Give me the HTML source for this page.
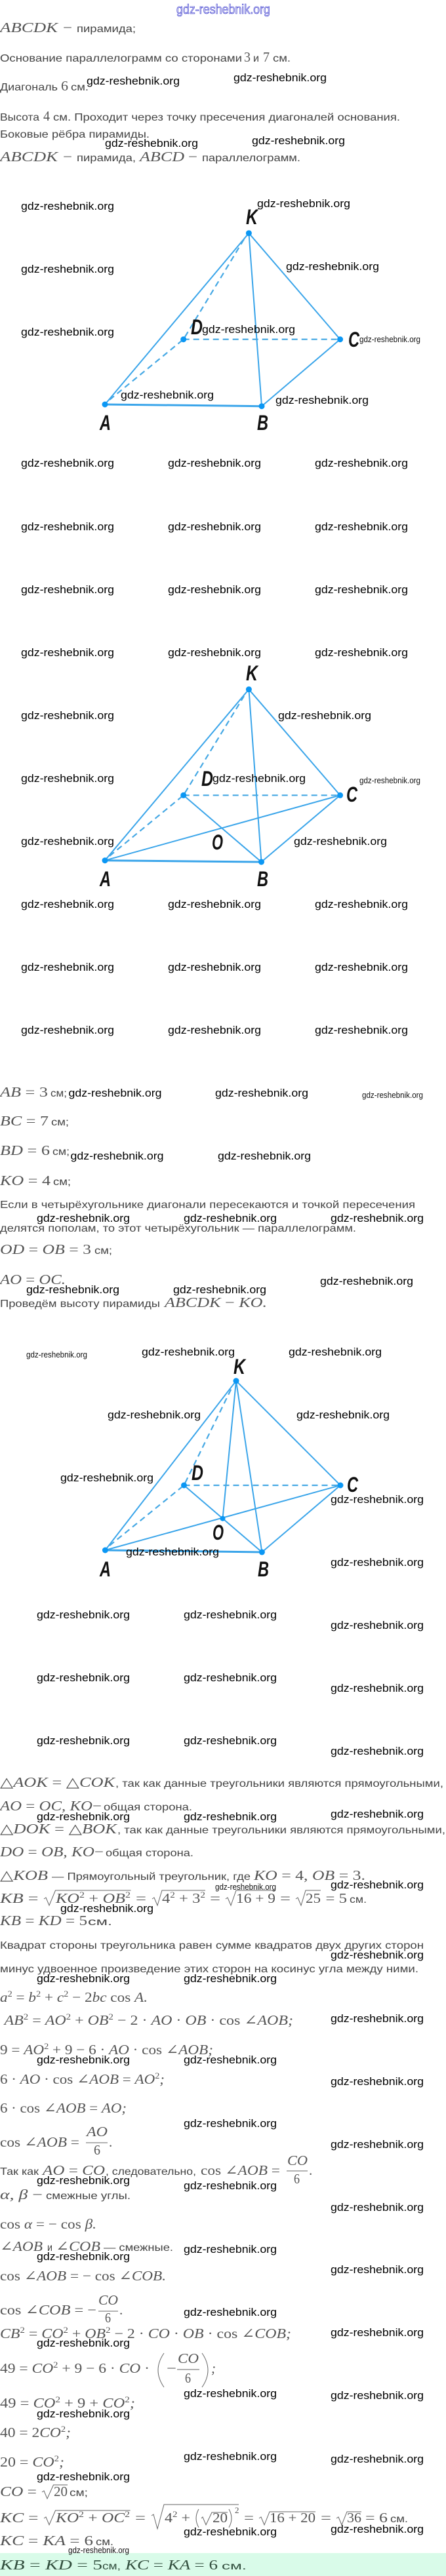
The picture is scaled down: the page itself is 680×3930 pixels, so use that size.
<!DOCTYPE html>
<html><head><meta charset="utf-8"><style>
html,body{margin:0;padding:0;background:#fff;width:680px;height:3930px;overflow:hidden}
svg{display:block}
.w{font:17px "Liberation Sans",sans-serif;fill:#000}
.x{font:12.5px "Liberation Sans",sans-serif;fill:#111}
.t{font:16px "Liberation Sans",sans-serif;fill:#444}
.m{font:italic 21px "Liberation Serif","DejaVu Serif",serif;fill:#555}
.u{font-style:normal}
.s{font-size:13px;font-style:normal}
.p{font:italic bold 32px "Liberation Sans",sans-serif;fill:#111}
.e{stroke:#3aa5ea;stroke-width:2;fill:none}
.b{stroke:#3aa5ea;stroke-width:3;fill:none}
.d{stroke:#45a8e4;stroke-width:2.2;stroke-dasharray:9 6;fill:none}
.r{stroke:#666;stroke-width:1;fill:none}
.g{fill:#0b97f4}
</style></head><body>
<svg xmlns="http://www.w3.org/2000/svg" width="680" height="3930" viewBox="0 0 680 3930">
<rect x="0" y="3895" width="680" height="35" fill="#d9fbe9"/>

<!-- pyramid 1 -->
<path class="e" d="M160 617L379.4 355.7L399 619.7L518.6 517.7L379.4 355.7"/>
<path class="b" d="M160 617L399 619.7"/>
<path class="d" d="M167 610L279.7 517.7L372 365M279.7 517.7H518.6"/>
<g class="g"><circle cx="160" cy="617" r="4.5"/><circle cx="399" cy="619.7" r="4.5"/><circle cx="518.6" cy="517.7" r="4.5"/><circle cx="279.7" cy="517.7" r="4.5"/><circle cx="379.4" cy="355.7" r="4.5"/></g>
<text class="p" x="375" y="342" textLength="18" lengthAdjust="spacingAndGlyphs">K</text>
<text class="p" x="152" y="656" textLength="17" lengthAdjust="spacingAndGlyphs">A</text>
<text class="p" x="392" y="656" textLength="17" lengthAdjust="spacingAndGlyphs">B</text>
<text class="p" x="531" y="529" textLength="17" lengthAdjust="spacingAndGlyphs">C</text>
<text class="p" x="291" y="510" textLength="18" lengthAdjust="spacingAndGlyphs">D</text>

<!-- pyramid 2 -->
<path class="e" d="M160 1312.7L379.4 1051.7L398.5 1315L518.6 1213.3L379.4 1051.7M160 1312.7L518.6 1213.3M279.7 1213.3L398.5 1315"/>
<path class="b" d="M160 1312.7L398.5 1315"/>
<path class="d" d="M167 1306L279.7 1213.3L372 1062M279.7 1213.3H518.6"/>
<g class="g"><circle cx="160" cy="1312.7" r="4.5"/><circle cx="398.5" cy="1315" r="4.5"/><circle cx="518.6" cy="1213.3" r="4.5"/><circle cx="279.7" cy="1213.3" r="4.5"/><circle cx="379.4" cy="1051.7" r="4.5"/></g>
<text class="p" x="375" y="1038" textLength="18" lengthAdjust="spacingAndGlyphs">K</text>
<text class="p" x="152" y="1352" textLength="17" lengthAdjust="spacingAndGlyphs">A</text>
<text class="p" x="392" y="1352" textLength="17" lengthAdjust="spacingAndGlyphs">B</text>
<text class="p" x="528" y="1223" textLength="17" lengthAdjust="spacingAndGlyphs">C</text>
<text class="p" x="307" y="1199" textLength="18" lengthAdjust="spacingAndGlyphs">D</text>
<text class="p" x="323" y="1296" textLength="17" lengthAdjust="spacingAndGlyphs">O</text>

<!-- pyramid 3 -->
<path class="e" d="M160.4 2365L360 2106.7L399.4 2368L519 2266L360 2106.7M160.4 2365L519 2266M280.5 2266L399.4 2368M360 2106.7L339.5 2316.7"/>
<path class="b" d="M160.4 2365L399.4 2368"/>
<path class="d" d="M167 2358L280.5 2266L353 2118M280.5 2266H519"/>
<g class="g"><circle cx="160.4" cy="2365" r="4.5"/><circle cx="399.4" cy="2368" r="4.5"/><circle cx="519" cy="2266" r="4.5"/><circle cx="280.5" cy="2266" r="4.5"/><circle cx="360" cy="2106.7" r="4.5"/><circle cx="339.5" cy="2316.7" r="4"/></g>
<text class="p" x="356" y="2096" textLength="18" lengthAdjust="spacingAndGlyphs">K</text>
<text class="p" x="152" y="2405" textLength="17" lengthAdjust="spacingAndGlyphs">A</text>
<text class="p" x="393" y="2405" textLength="17" lengthAdjust="spacingAndGlyphs">B</text>
<text class="p" x="529" y="2276" textLength="17" lengthAdjust="spacingAndGlyphs">C</text>
<text class="p" x="292" y="2258" textLength="18" lengthAdjust="spacingAndGlyphs">D</text>
<text class="p" x="324" y="2349" textLength="17" lengthAdjust="spacingAndGlyphs">O</text>

<!-- body text -->
<text class="m" x="0" y="49" textLength="88" lengthAdjust="spacingAndGlyphs">ABCDK</text>
<text class="m" x="96" y="49" textLength="14" lengthAdjust="spacingAndGlyphs"><tspan class="u">−</tspan></text>
<text class="t" x="117" y="49" textLength="90" lengthAdjust="spacingAndGlyphs">пирамида;</text>
<text class="t" x="0" y="94" textLength="369" lengthAdjust="spacingAndGlyphs">Основание параллелограмм со сторонами</text>
<text class="m" x="372" y="94" textLength="10" lengthAdjust="spacingAndGlyphs"><tspan class="u">3</tspan></text>
<text class="t" x="386" y="94" textLength="9" lengthAdjust="spacingAndGlyphs">и</text>
<text class="m" x="401" y="94" textLength="10" lengthAdjust="spacingAndGlyphs"><tspan class="u">7</tspan></text>
<text class="t" x="416" y="94" textLength="27" lengthAdjust="spacingAndGlyphs">см.</text>
<text class="t" x="0" y="138" textLength="88" lengthAdjust="spacingAndGlyphs">Диагональ</text>
<text class="m" x="93" y="138" textLength="11" lengthAdjust="spacingAndGlyphs"><tspan class="u">6</tspan></text>
<text class="t" x="108" y="138" textLength="27" lengthAdjust="spacingAndGlyphs">см.</text>
<text class="t" x="0" y="184" textLength="60" lengthAdjust="spacingAndGlyphs">Высота</text>
<text class="m" x="66" y="184" textLength="10" lengthAdjust="spacingAndGlyphs"><tspan class="u">4</tspan></text>
<text class="t" x="81" y="184" textLength="529" lengthAdjust="spacingAndGlyphs">см. Проходит через точку пресечения диагоналей основания.</text>
<text class="t" x="0" y="210" textLength="228" lengthAdjust="spacingAndGlyphs">Боковые рёбра пирамиды.</text>
<text class="m" x="0" y="246" textLength="88" lengthAdjust="spacingAndGlyphs">ABCDK</text>
<text class="m" x="96" y="246" textLength="14" lengthAdjust="spacingAndGlyphs"><tspan class="u">−</tspan></text>
<text class="t" x="117" y="246" textLength="90" lengthAdjust="spacingAndGlyphs">пирамида,</text>
<text class="m" x="213" y="246" textLength="68" lengthAdjust="spacingAndGlyphs">ABCD</text>
<text class="m" x="287" y="246" textLength="14" lengthAdjust="spacingAndGlyphs"><tspan class="u">−</tspan></text>
<text class="t" x="308" y="246" textLength="150" lengthAdjust="spacingAndGlyphs">параллелограмм.</text>

<text class="m" x="0" y="1673" textLength="73" lengthAdjust="spacingAndGlyphs">AB <tspan class="u">= 3</tspan></text>
<text class="t" x="77" y="1673" textLength="25" lengthAdjust="spacingAndGlyphs">см;</text>
<text class="m" x="0" y="1717" textLength="74" lengthAdjust="spacingAndGlyphs">BC <tspan class="u">= 7</tspan></text>
<text class="t" x="78" y="1717" textLength="27" lengthAdjust="spacingAndGlyphs">см;</text>
<text class="m" x="0" y="1762" textLength="76" lengthAdjust="spacingAndGlyphs">BD <tspan class="u">= 6</tspan></text>
<text class="t" x="80" y="1762" textLength="26" lengthAdjust="spacingAndGlyphs">см;</text>
<text class="m" x="0" y="1808" textLength="77" lengthAdjust="spacingAndGlyphs">KO <tspan class="u">= 4</tspan></text>
<text class="t" x="81" y="1808" textLength="27" lengthAdjust="spacingAndGlyphs">см;</text>
<text class="t" x="0" y="1843" textLength="633" lengthAdjust="spacingAndGlyphs">Если в четырёхугольнике диагонали пересекаются и точкой пересечения</text>
<text class="t" x="0" y="1879" textLength="543" lengthAdjust="spacingAndGlyphs">делятся пополам, то этот четырёхугольник — параллелограмм.</text>
<text class="m" x="0" y="1913" textLength="139" lengthAdjust="spacingAndGlyphs">OD <tspan class="u">=</tspan> OB <tspan class="u">= 3</tspan></text>
<text class="t" x="144" y="1913" textLength="27" lengthAdjust="spacingAndGlyphs">см;</text>
<text class="m" x="0" y="1959" textLength="100" lengthAdjust="spacingAndGlyphs">AO <tspan class="u">=</tspan> OC.</text>
<text class="t" x="0" y="1994" textLength="244" lengthAdjust="spacingAndGlyphs">Проведём высоту пирамиды</text>
<text class="m" x="251" y="1994" textLength="156" lengthAdjust="spacingAndGlyphs">ABCDK <tspan class="u">−</tspan> KO.</text>

<text class="m" x="0" y="2726" textLength="175" lengthAdjust="spacingAndGlyphs"><tspan class="u">△</tspan>AOK <tspan class="u">= △</tspan>COK</text>
<text class="t" x="176" y="2726" textLength="500" lengthAdjust="spacingAndGlyphs">, так как данные треугольники являются прямоугольными,</text>
<text class="m" x="0" y="2762" textLength="155" lengthAdjust="spacingAndGlyphs">AO <tspan class="u">=</tspan> OC, KO<tspan class="u">−</tspan></text>
<text class="t" x="158" y="2762" textLength="135" lengthAdjust="spacingAndGlyphs">общая сторона.</text>
<text class="m" x="0" y="2797" textLength="178" lengthAdjust="spacingAndGlyphs"><tspan class="u">△</tspan>DOK <tspan class="u">= △</tspan>BOK</text>
<text class="t" x="179" y="2797" textLength="500" lengthAdjust="spacingAndGlyphs">, так как данные треугольники являются прямоугольными,</text>
<text class="m" x="0" y="2832" textLength="158" lengthAdjust="spacingAndGlyphs">DO <tspan class="u">=</tspan> OB, KO<tspan class="u">−</tspan></text>
<text class="t" x="161" y="2832" textLength="134" lengthAdjust="spacingAndGlyphs">общая сторона.</text>
<text class="m" x="0" y="2868" textLength="73" lengthAdjust="spacingAndGlyphs"><tspan class="u">△</tspan>KOB</text>
<text class="t" x="79" y="2868" textLength="303" lengthAdjust="spacingAndGlyphs">— Прямоугольный треугольник, где</text>
<text class="m" x="387" y="2868" textLength="170" lengthAdjust="spacingAndGlyphs">KO <tspan class="u">= 4,</tspan> OB <tspan class="u">= 3.</tspan></text>

<text class="m" x="0" y="2903" textLength="58.5" lengthAdjust="spacingAndGlyphs">KB <tspan class="u">=</tspan></text>
<path class="r" d="M67 2897L70 2895L75 2907L84.5 2884H199.5M232 2897L235 2895L240 2907L247 2884H313M344 2897L347 2895L352 2907L360 2884H420M451 2897L454 2895L459 2907L466 2884H489"/>
<text class="m" x="85" y="2903" textLength="114" lengthAdjust="spacingAndGlyphs">KO<tspan class="s" dy="-8">2</tspan><tspan class="u" dy="8"> + </tspan>OB<tspan class="s" dy="-8">2</tspan></text>
<text class="m" x="207" y="2903" textLength="16" lengthAdjust="spacingAndGlyphs"><tspan class="u">=</tspan></text>
<text class="m" x="247" y="2903" textLength="66" lengthAdjust="spacingAndGlyphs"><tspan class="u">4</tspan><tspan class="s" dy="-8">2</tspan><tspan class="u" dy="8"> + 3</tspan><tspan class="s" dy="-8">2</tspan></text>
<text class="m" x="320" y="2903" textLength="16" lengthAdjust="spacingAndGlyphs"><tspan class="u">=</tspan></text>
<text class="m" x="360" y="2903" textLength="60" lengthAdjust="spacingAndGlyphs"><tspan class="u">16 + 9</tspan></text>
<text class="m" x="427" y="2903" textLength="16" lengthAdjust="spacingAndGlyphs"><tspan class="u">=</tspan></text>
<text class="m" x="466" y="2903" textLength="23" lengthAdjust="spacingAndGlyphs"><tspan class="u">25</tspan></text>
<text class="m" x="496.5" y="2903" textLength="32.5" lengthAdjust="spacingAndGlyphs"><tspan class="u">= 5</tspan></text>
<text class="t" x="533" y="2903" textLength="26" lengthAdjust="spacingAndGlyphs">см.</text>
<text class="m" x="0" y="2937" textLength="133" lengthAdjust="spacingAndGlyphs">KB <tspan class="u">=</tspan> KD <tspan class="u">= 5</tspan></text>
<text class="t" x="134" y="2937" textLength="37" lengthAdjust="spacingAndGlyphs">см.</text>

<text class="t" x="0" y="2973" textLength="646" lengthAdjust="spacingAndGlyphs">Квадрат стороны треугольника равен сумме квадратов двух других сторон</text>
<text class="t" x="0" y="3009" textLength="638" lengthAdjust="spacingAndGlyphs">минус удвоенное произведение этих сторон на косинус угла между ними.</text>
<text class="m" x="0" y="3054" textLength="225" lengthAdjust="spacingAndGlyphs">a<tspan class="s" dy="-8">2</tspan><tspan class="u" dy="8"> = </tspan>b<tspan class="s" dy="-8">2</tspan><tspan class="u" dy="8"> + </tspan>c<tspan class="s" dy="-8">2</tspan><tspan class="u" dy="8"> − 2</tspan>bc<tspan class="u"> cos </tspan>A.</text>
<text class="m" x="6.5" y="3089" textLength="440.5" lengthAdjust="spacingAndGlyphs">AB<tspan class="s" dy="-8">2</tspan><tspan class="u" dy="8"> = </tspan>AO<tspan class="s" dy="-8">2</tspan><tspan class="u" dy="8"> + </tspan>OB<tspan class="s" dy="-8">2</tspan><tspan class="u" dy="8"> − 2 · </tspan>AO<tspan class="u"> · </tspan>OB<tspan class="u"> · cos ∠</tspan>AOB;</text>
<text class="m" x="0" y="3134" textLength="325" lengthAdjust="spacingAndGlyphs"><tspan class="u">9 = </tspan>AO<tspan class="s" dy="-8">2</tspan><tspan class="u" dy="8"> + 9 − 6 · </tspan>AO<tspan class="u"> · cos ∠</tspan>AOB;</text>
<text class="m" x="0" y="3179" textLength="251" lengthAdjust="spacingAndGlyphs"><tspan class="u">6 · </tspan>AO<tspan class="u"> · cos ∠</tspan>AOB<tspan class="u"> = </tspan>AO<tspan class="s" dy="-8">2</tspan><tspan dy="8">;</tspan></text>
<text class="m" x="0" y="3223" textLength="193" lengthAdjust="spacingAndGlyphs"><tspan class="u">6 · cos ∠</tspan>AOB<tspan class="u"> = </tspan>AO;</text>
<text class="m" x="0" y="3275" textLength="121" lengthAdjust="spacingAndGlyphs"><tspan class="u">cos ∠</tspan>AOB<tspan class="u"> =</tspan></text>
<text class="m" x="132" y="3259" textLength="32" lengthAdjust="spacingAndGlyphs">AO</text>
<path class="r" d="M131 3269H164"/>
<text class="m" x="143" y="3287" textLength="10" lengthAdjust="spacingAndGlyphs"><tspan class="u">6</tspan></text>
<text class="m" x="166" y="3275"><tspan class="u">.</tspan></text>

<text class="t" x="0" y="3318" textLength="59" lengthAdjust="spacingAndGlyphs">Так как</text>
<text class="m" x="65" y="3318" textLength="95" lengthAdjust="spacingAndGlyphs">AO <tspan class="u">=</tspan> CO</text>
<text class="t" x="161" y="3318" textLength="138" lengthAdjust="spacingAndGlyphs">, следовательно,</text>
<text class="m" x="306" y="3318" textLength="121" lengthAdjust="spacingAndGlyphs"><tspan class="u">cos ∠</tspan>AOB<tspan class="u"> =</tspan></text>
<text class="m" x="438" y="3303" textLength="31" lengthAdjust="spacingAndGlyphs">CO</text>
<path class="r" d="M437 3312H469"/>
<text class="m" x="448" y="3331" textLength="9" lengthAdjust="spacingAndGlyphs"><tspan class="u">6</tspan></text>
<text class="m" x="471" y="3318"><tspan class="u">.</tspan></text>
<text class="m" x="0" y="3355" textLength="65" lengthAdjust="spacingAndGlyphs">α, β <tspan class="u">−</tspan></text>
<text class="t" x="70" y="3355" textLength="129" lengthAdjust="spacingAndGlyphs">смежные углы.</text>
<text class="m" x="0" y="3400" textLength="147" lengthAdjust="spacingAndGlyphs"><tspan class="u">cos </tspan>α<tspan class="u"> = − cos </tspan>β.</text>
<text class="m" x="0" y="3434" textLength="65" lengthAdjust="spacingAndGlyphs"><tspan class="u">∠</tspan>AOB</text>
<text class="t" x="72" y="3434" textLength="8" lengthAdjust="spacingAndGlyphs">и</text>
<text class="m" x="85" y="3434" textLength="68" lengthAdjust="spacingAndGlyphs"><tspan class="u">∠</tspan>COB</text>
<text class="t" x="158" y="3434" textLength="106" lengthAdjust="spacingAndGlyphs">— смежные.</text>
<text class="m" x="0" y="3479" textLength="253" lengthAdjust="spacingAndGlyphs"><tspan class="u">cos ∠</tspan>AOB<tspan class="u"> = − cos ∠</tspan>COB.</text>
<text class="m" x="0" y="3531" textLength="147" lengthAdjust="spacingAndGlyphs"><tspan class="u">cos ∠</tspan>COB<tspan class="u"> = −</tspan></text>
<text class="m" x="150" y="3516" textLength="30" lengthAdjust="spacingAndGlyphs">CO</text>
<path class="r" d="M150 3526H180"/>
<text class="m" x="160" y="3543" textLength="9" lengthAdjust="spacingAndGlyphs"><tspan class="u">6</tspan></text>
<text class="m" x="182" y="3531"><tspan class="u">.</tspan></text>
<text class="m" x="0" y="3567" textLength="444" lengthAdjust="spacingAndGlyphs">CB<tspan class="s" dy="-8">2</tspan><tspan class="u" dy="8"> = </tspan>CO<tspan class="s" dy="-8">2</tspan><tspan class="u" dy="8"> + </tspan>OB<tspan class="s" dy="-8">2</tspan><tspan class="u" dy="8"> − 2 · </tspan>CO<tspan class="u"> · </tspan>OB<tspan class="u"> · cos ∠</tspan>COB;</text>

<text class="m" x="0" y="3620" textLength="228" lengthAdjust="spacingAndGlyphs"><tspan class="u">49 = </tspan>CO<tspan class="s" dy="-8">2</tspan><tspan class="u" dy="8"> + 9 − 6 · </tspan>CO<tspan class="u"> ·</tspan></text>
<path class="r" d="M250 3590Q232 3616 250 3642M308 3590Q326 3616 308 3642"/>
<text class="m" x="254" y="3620" textLength="15" lengthAdjust="spacingAndGlyphs"><tspan class="u">−</tspan></text>
<text class="m" x="271" y="3605" textLength="32" lengthAdjust="spacingAndGlyphs">CO</text>
<path class="r" d="M270 3615H304"/>
<text class="m" x="282" y="3635" textLength="9" lengthAdjust="spacingAndGlyphs"><tspan class="u">6</tspan></text>
<text class="m" x="322" y="3620">;</text>
<text class="m" x="0" y="3673" textLength="206" lengthAdjust="spacingAndGlyphs"><tspan class="u">49 = </tspan>CO<tspan class="s" dy="-8">2</tspan><tspan class="u" dy="8"> + 9 + </tspan>CO<tspan class="s" dy="-8">2</tspan><tspan dy="8">;</tspan></text>
<text class="m" x="0" y="3718" textLength="108" lengthAdjust="spacingAndGlyphs"><tspan class="u">40 = 2</tspan>CO<tspan class="s" dy="-8">2</tspan><tspan dy="8">;</tspan></text>
<text class="m" x="0" y="3763" textLength="98" lengthAdjust="spacingAndGlyphs"><tspan class="u">20 = </tspan>CO<tspan class="s" dy="-8">2</tspan><tspan dy="8">;</tspan></text>
<text class="m" x="0" y="3808" textLength="56" lengthAdjust="spacingAndGlyphs">CO <tspan class="u">=</tspan></text>
<path class="r" d="M64 3802L67 3800L72 3812L81.5 3791H103"/>
<text class="m" x="82" y="3808" textLength="21" lengthAdjust="spacingAndGlyphs"><tspan class="u">20</tspan></text>
<text class="t" x="106" y="3808" textLength="28" lengthAdjust="spacingAndGlyphs">см;</text>

<text class="m" x="0" y="3848" textLength="58.5" lengthAdjust="spacingAndGlyphs">KC <tspan class="u">=</tspan></text>
<path class="r" d="M67 3842L70 3840L75 3852L84.5 3830H198.6M231 3838L234 3836L240 3858L250 3821H364M307 3842L309 3840L314 3852L323 3833H347M395 3842L398 3840L403 3852L411 3832H481M513 3842L516 3840L521 3852L529 3832H551M303 3828Q295 3842 303 3856M349 3828Q357 3842 349 3856"/>
<text class="m" x="85" y="3848" textLength="113" lengthAdjust="spacingAndGlyphs">KO<tspan class="s" dy="-8">2</tspan><tspan class="u" dy="8"> + </tspan>OC<tspan class="s" dy="-8">2</tspan></text>
<text class="m" x="206" y="3848" textLength="16" lengthAdjust="spacingAndGlyphs"><tspan class="u">=</tspan></text>
<text class="m" x="251" y="3848" textLength="39" lengthAdjust="spacingAndGlyphs"><tspan class="u">4</tspan><tspan class="s" dy="-8">2</tspan><tspan class="u" dy="8"> +</tspan></text>
<text class="m" x="324" y="3848" textLength="23" lengthAdjust="spacingAndGlyphs"><tspan class="u">20</tspan></text>
<text class="m s" x="358" y="3834">2</text>
<text class="m" x="372" y="3848" textLength="15" lengthAdjust="spacingAndGlyphs"><tspan class="u">=</tspan></text>
<text class="m" x="411" y="3848" textLength="70" lengthAdjust="spacingAndGlyphs"><tspan class="u">16 + 20</tspan></text>
<text class="m" x="489" y="3848" textLength="16" lengthAdjust="spacingAndGlyphs"><tspan class="u">=</tspan></text>
<text class="m" x="529" y="3848" textLength="22" lengthAdjust="spacingAndGlyphs"><tspan class="u">36</tspan></text>
<text class="m" x="557" y="3848" textLength="34" lengthAdjust="spacingAndGlyphs"><tspan class="u">= 6</tspan></text>
<text class="t" x="595" y="3848" textLength="27" lengthAdjust="spacingAndGlyphs">см.</text>
<text class="m" x="0" y="3883" textLength="142" lengthAdjust="spacingAndGlyphs">KC <tspan class="u">=</tspan> KA <tspan class="u">= 6</tspan></text>
<text class="t" x="146" y="3883" textLength="27" lengthAdjust="spacingAndGlyphs">см.</text>
<text class="m" x="0" y="3920" textLength="156" lengthAdjust="spacingAndGlyphs" style="fill:#33503f">KB <tspan class="u">=</tspan> KD <tspan class="u">= 5</tspan></text>
<text class="t" x="156" y="3920" textLength="28" lengthAdjust="spacingAndGlyphs" style="fill:#33503f">см,</text>
<text class="m" x="191" y="3920" textLength="141" lengthAdjust="spacingAndGlyphs" style="fill:#33503f">KC <tspan class="u">=</tspan> KA <tspan class="u">= 6</tspan></text>
<text class="t" x="338" y="3920" textLength="38" lengthAdjust="spacingAndGlyphs" style="fill:#33503f">см.</text>

<!-- top blue mark -->
<text x="269" y="21" textLength="143" lengthAdjust="spacingAndGlyphs" style="font:20px 'Liberation Sans',sans-serif;fill:#dde;stroke:#2a2ad0;stroke-width:.6">gdz-reshebnik.org</text>

<!-- small watermarks -->
<text class="x" x="548" y="522" textLength="93" lengthAdjust="spacingAndGlyphs">gdz-reshebnik.org</text>
<text class="x" x="548" y="1195" textLength="93" lengthAdjust="spacingAndGlyphs">gdz-reshebnik.org</text>
<text class="x" x="552" y="1675" textLength="93" lengthAdjust="spacingAndGlyphs">gdz-reshebnik.org</text>
<text class="x" x="40" y="2071" textLength="93" lengthAdjust="spacingAndGlyphs">gdz-reshebnik.org</text>
<text class="x" x="328" y="2883" textLength="93" lengthAdjust="spacingAndGlyphs">gdz-reshebnik.org</text>
<text class="x" x="104" y="3895" textLength="93" lengthAdjust="spacingAndGlyphs">gdz-reshebnik.org</text>

<!-- watermarks -->
<g>
<text class="w" x="132" y="129" textLength="142" lengthAdjust="spacingAndGlyphs">gdz-reshebnik.org</text>
<text class="w" x="356" y="124" textLength="142" lengthAdjust="spacingAndGlyphs">gdz-reshebnik.org</text>
<text class="w" x="160" y="224" textLength="142" lengthAdjust="spacingAndGlyphs">gdz-reshebnik.org</text>
<text class="w" x="384" y="220" textLength="142" lengthAdjust="spacingAndGlyphs">gdz-reshebnik.org</text>
<text class="w" x="32" y="320" textLength="142" lengthAdjust="spacingAndGlyphs">gdz-reshebnik.org</text>
<text class="w" x="392" y="316" textLength="142" lengthAdjust="spacingAndGlyphs">gdz-reshebnik.org</text>
<text class="w" x="32" y="416" textLength="142" lengthAdjust="spacingAndGlyphs">gdz-reshebnik.org</text>
<text class="w" x="436" y="412" textLength="142" lengthAdjust="spacingAndGlyphs">gdz-reshebnik.org</text>
<text class="w" x="32" y="512" textLength="142" lengthAdjust="spacingAndGlyphs">gdz-reshebnik.org</text>
<text class="w" x="308" y="508" textLength="142" lengthAdjust="spacingAndGlyphs">gdz-reshebnik.org</text>
<text class="w" x="184" y="608" textLength="142" lengthAdjust="spacingAndGlyphs">gdz-reshebnik.org</text>
<text class="w" x="420" y="616" textLength="142" lengthAdjust="spacingAndGlyphs">gdz-reshebnik.org</text>
<text class="w" x="32" y="712" textLength="142" lengthAdjust="spacingAndGlyphs">gdz-reshebnik.org</text>
<text class="w" x="256" y="712" textLength="142" lengthAdjust="spacingAndGlyphs">gdz-reshebnik.org</text>
<text class="w" x="480" y="712" textLength="142" lengthAdjust="spacingAndGlyphs">gdz-reshebnik.org</text>
<text class="w" x="32" y="809" textLength="142" lengthAdjust="spacingAndGlyphs">gdz-reshebnik.org</text>
<text class="w" x="256" y="809" textLength="142" lengthAdjust="spacingAndGlyphs">gdz-reshebnik.org</text>
<text class="w" x="480" y="809" textLength="142" lengthAdjust="spacingAndGlyphs">gdz-reshebnik.org</text>
<text class="w" x="32" y="905" textLength="142" lengthAdjust="spacingAndGlyphs">gdz-reshebnik.org</text>
<text class="w" x="256" y="905" textLength="142" lengthAdjust="spacingAndGlyphs">gdz-reshebnik.org</text>
<text class="w" x="480" y="905" textLength="142" lengthAdjust="spacingAndGlyphs">gdz-reshebnik.org</text>
<text class="w" x="32" y="1001" textLength="142" lengthAdjust="spacingAndGlyphs">gdz-reshebnik.org</text>
<text class="w" x="256" y="1001" textLength="142" lengthAdjust="spacingAndGlyphs">gdz-reshebnik.org</text>
<text class="w" x="480" y="1001" textLength="142" lengthAdjust="spacingAndGlyphs">gdz-reshebnik.org</text>
<text class="w" x="32" y="1097" textLength="142" lengthAdjust="spacingAndGlyphs">gdz-reshebnik.org</text>
<text class="w" x="424" y="1097" textLength="142" lengthAdjust="spacingAndGlyphs">gdz-reshebnik.org</text>
<text class="w" x="32" y="1193" textLength="142" lengthAdjust="spacingAndGlyphs">gdz-reshebnik.org</text>
<text class="w" x="324" y="1193" textLength="142" lengthAdjust="spacingAndGlyphs">gdz-reshebnik.org</text>
<text class="w" x="32" y="1289" textLength="142" lengthAdjust="spacingAndGlyphs">gdz-reshebnik.org</text>
<text class="w" x="448" y="1289" textLength="142" lengthAdjust="spacingAndGlyphs">gdz-reshebnik.org</text>
<text class="w" x="32" y="1385" textLength="142" lengthAdjust="spacingAndGlyphs">gdz-reshebnik.org</text>
<text class="w" x="256" y="1385" textLength="142" lengthAdjust="spacingAndGlyphs">gdz-reshebnik.org</text>
<text class="w" x="480" y="1385" textLength="142" lengthAdjust="spacingAndGlyphs">gdz-reshebnik.org</text>
<text class="w" x="32" y="1481" textLength="142" lengthAdjust="spacingAndGlyphs">gdz-reshebnik.org</text>
<text class="w" x="256" y="1481" textLength="142" lengthAdjust="spacingAndGlyphs">gdz-reshebnik.org</text>
<text class="w" x="480" y="1481" textLength="142" lengthAdjust="spacingAndGlyphs">gdz-reshebnik.org</text>
<text class="w" x="32" y="1577" textLength="142" lengthAdjust="spacingAndGlyphs">gdz-reshebnik.org</text>
<text class="w" x="256" y="1577" textLength="142" lengthAdjust="spacingAndGlyphs">gdz-reshebnik.org</text>
<text class="w" x="480" y="1577" textLength="142" lengthAdjust="spacingAndGlyphs">gdz-reshebnik.org</text>
<text class="w" x="104.5" y="1673" textLength="142" lengthAdjust="spacingAndGlyphs">gdz-reshebnik.org</text>
<text class="w" x="328" y="1673" textLength="142" lengthAdjust="spacingAndGlyphs">gdz-reshebnik.org</text>
<text class="w" x="107.5" y="1769" textLength="142" lengthAdjust="spacingAndGlyphs">gdz-reshebnik.org</text>
<text class="w" x="332" y="1769" textLength="142" lengthAdjust="spacingAndGlyphs">gdz-reshebnik.org</text>
<text class="w" x="56" y="1864" textLength="142" lengthAdjust="spacingAndGlyphs">gdz-reshebnik.org</text>
<text class="w" x="280" y="1864" textLength="142" lengthAdjust="spacingAndGlyphs">gdz-reshebnik.org</text>
<text class="w" x="504" y="1864" textLength="142" lengthAdjust="spacingAndGlyphs">gdz-reshebnik.org</text>
<text class="w" x="488" y="1960" textLength="142" lengthAdjust="spacingAndGlyphs">gdz-reshebnik.org</text>
<text class="w" x="40" y="1973" textLength="142" lengthAdjust="spacingAndGlyphs">gdz-reshebnik.org</text>
<text class="w" x="264" y="1973" textLength="142" lengthAdjust="spacingAndGlyphs">gdz-reshebnik.org</text>
<text class="w" x="216" y="2068" textLength="142" lengthAdjust="spacingAndGlyphs">gdz-reshebnik.org</text>
<text class="w" x="440" y="2068" textLength="142" lengthAdjust="spacingAndGlyphs">gdz-reshebnik.org</text>
<text class="w" x="164" y="2164" textLength="142" lengthAdjust="spacingAndGlyphs">gdz-reshebnik.org</text>
<text class="w" x="452" y="2164" textLength="142" lengthAdjust="spacingAndGlyphs">gdz-reshebnik.org</text>
<text class="w" x="92" y="2260" textLength="142" lengthAdjust="spacingAndGlyphs">gdz-reshebnik.org</text>
<text class="w" x="504" y="2293" textLength="142" lengthAdjust="spacingAndGlyphs">gdz-reshebnik.org</text>
<text class="w" x="192" y="2373" textLength="142" lengthAdjust="spacingAndGlyphs">gdz-reshebnik.org</text>
<text class="w" x="504" y="2389" textLength="142" lengthAdjust="spacingAndGlyphs">gdz-reshebnik.org</text>
<text class="w" x="56" y="2469" textLength="142" lengthAdjust="spacingAndGlyphs">gdz-reshebnik.org</text>
<text class="w" x="280" y="2469" textLength="142" lengthAdjust="spacingAndGlyphs">gdz-reshebnik.org</text>
<text class="w" x="504" y="2485" textLength="142" lengthAdjust="spacingAndGlyphs">gdz-reshebnik.org</text>
<text class="w" x="56" y="2565" textLength="142" lengthAdjust="spacingAndGlyphs">gdz-reshebnik.org</text>
<text class="w" x="280" y="2565" textLength="142" lengthAdjust="spacingAndGlyphs">gdz-reshebnik.org</text>
<text class="w" x="504" y="2581" textLength="142" lengthAdjust="spacingAndGlyphs">gdz-reshebnik.org</text>
<text class="w" x="56" y="2661" textLength="142" lengthAdjust="spacingAndGlyphs">gdz-reshebnik.org</text>
<text class="w" x="280" y="2661" textLength="142" lengthAdjust="spacingAndGlyphs">gdz-reshebnik.org</text>
<text class="w" x="504" y="2677" textLength="142" lengthAdjust="spacingAndGlyphs">gdz-reshebnik.org</text>
<text class="w" x="56" y="2777" textLength="142" lengthAdjust="spacingAndGlyphs">gdz-reshebnik.org</text>
<text class="w" x="280" y="2777" textLength="142" lengthAdjust="spacingAndGlyphs">gdz-reshebnik.org</text>
<text class="w" x="504" y="2773" textLength="142" lengthAdjust="spacingAndGlyphs">gdz-reshebnik.org</text>
<text class="w" x="504" y="2881" textLength="142" lengthAdjust="spacingAndGlyphs">gdz-reshebnik.org</text>
<text class="w" x="92" y="2917" textLength="142" lengthAdjust="spacingAndGlyphs">gdz-reshebnik.org</text>
<text class="w" x="504" y="2988" textLength="142" lengthAdjust="spacingAndGlyphs">gdz-reshebnik.org</text>
<text class="w" x="56" y="3024" textLength="142" lengthAdjust="spacingAndGlyphs">gdz-reshebnik.org</text>
<text class="w" x="280" y="3024" textLength="142" lengthAdjust="spacingAndGlyphs">gdz-reshebnik.org</text>
<text class="w" x="504" y="3085" textLength="142" lengthAdjust="spacingAndGlyphs">gdz-reshebnik.org</text>
<text class="w" x="56" y="3148" textLength="142" lengthAdjust="spacingAndGlyphs">gdz-reshebnik.org</text>
<text class="w" x="280" y="3148" textLength="142" lengthAdjust="spacingAndGlyphs">gdz-reshebnik.org</text>
<text class="w" x="504" y="3181" textLength="142" lengthAdjust="spacingAndGlyphs">gdz-reshebnik.org</text>
<text class="w" x="280" y="3245" textLength="142" lengthAdjust="spacingAndGlyphs">gdz-reshebnik.org</text>
<text class="w" x="504" y="3277" textLength="142" lengthAdjust="spacingAndGlyphs">gdz-reshebnik.org</text>
<text class="w" x="56" y="3332" textLength="142" lengthAdjust="spacingAndGlyphs">gdz-reshebnik.org</text>
<text class="w" x="280" y="3340" textLength="142" lengthAdjust="spacingAndGlyphs">gdz-reshebnik.org</text>
<text class="w" x="504" y="3373" textLength="142" lengthAdjust="spacingAndGlyphs">gdz-reshebnik.org</text>
<text class="w" x="280" y="3437" textLength="142" lengthAdjust="spacingAndGlyphs">gdz-reshebnik.org</text>
<text class="w" x="56" y="3448" textLength="142" lengthAdjust="spacingAndGlyphs">gdz-reshebnik.org</text>
<text class="w" x="504" y="3468" textLength="142" lengthAdjust="spacingAndGlyphs">gdz-reshebnik.org</text>
<text class="w" x="280" y="3533" textLength="142" lengthAdjust="spacingAndGlyphs">gdz-reshebnik.org</text>
<text class="w" x="504" y="3564" textLength="142" lengthAdjust="spacingAndGlyphs">gdz-reshebnik.org</text>
<text class="w" x="56" y="3580" textLength="142" lengthAdjust="spacingAndGlyphs">gdz-reshebnik.org</text>
<text class="w" x="280" y="3657" textLength="142" lengthAdjust="spacingAndGlyphs">gdz-reshebnik.org</text>
<text class="w" x="504" y="3660" textLength="142" lengthAdjust="spacingAndGlyphs">gdz-reshebnik.org</text>
<text class="w" x="56" y="3688" textLength="142" lengthAdjust="spacingAndGlyphs">gdz-reshebnik.org</text>
<text class="w" x="280" y="3753" textLength="142" lengthAdjust="spacingAndGlyphs">gdz-reshebnik.org</text>
<text class="w" x="504" y="3757" textLength="142" lengthAdjust="spacingAndGlyphs">gdz-reshebnik.org</text>
<text class="w" x="56" y="3784" textLength="142" lengthAdjust="spacingAndGlyphs">gdz-reshebnik.org</text>
<text class="w" x="280" y="3868" textLength="142" lengthAdjust="spacingAndGlyphs">gdz-reshebnik.org</text>
<text class="w" x="504" y="3864" textLength="142" lengthAdjust="spacingAndGlyphs">gdz-reshebnik.org</text>
</g>
</svg>
</body></html>
